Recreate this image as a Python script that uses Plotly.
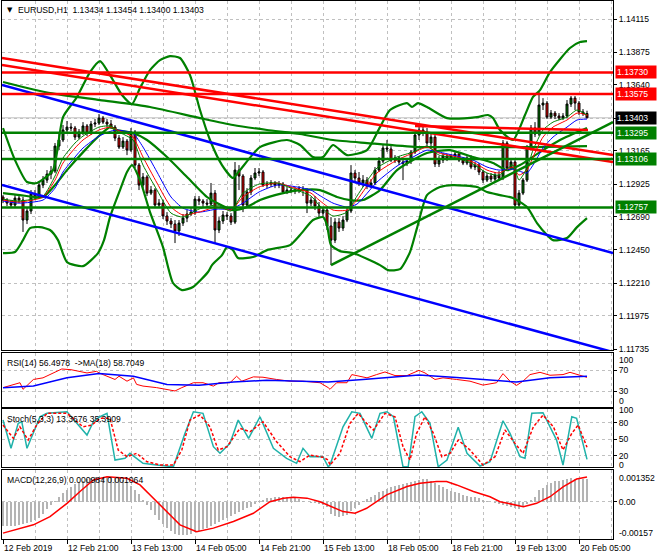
import datetime as dt
import plotly.graph_objects as go

FONT = "Liberation Sans"
GRID = "#c0c0c0"

# ---------------- candles (EURUSD H1) ----------------
opens = [1.12832, 1.12810, 1.12788, 1.12774, 1.12824, 1.12810, 1.12666, 1.12731, 1.12853, 1.12832,
         1.12918, 1.12954, 1.12997, 1.13019, 1.13199, 1.13243, 1.13315, 1.13336, 1.13329, 1.13264,
         1.13300, 1.13344, 1.13293, 1.13358, 1.13365, 1.13401, 1.13372, 1.13358, 1.13336, 1.13257,
         1.13192, 1.13235, 1.13170, 1.13300, 1.13062, 1.12918, 1.12976, 1.12860, 1.12882, 1.12774,
         1.12788, 1.12695, 1.12659, 1.12637, 1.12587, 1.12644, 1.12680, 1.12709, 1.12723, 1.12817,
         1.12803, 1.12788, 1.12781, 1.12860, 1.12594, 1.12659, 1.12702, 1.12695, 1.12651, 1.13026,
         1.12983, 1.12774, 1.12868, 1.12969, 1.13005, 1.13012, 1.12918, 1.12925, 1.12933, 1.12918,
         1.12925, 1.12868, 1.12882, 1.12875, 1.12882, 1.12889, 1.12882, 1.12788, 1.12810, 1.12767,
         1.12716, 1.12738, 1.12623, 1.12521, 1.12651, 1.12608, 1.12666, 1.12731, 1.13005, 1.12969,
         1.12933, 1.12954, 1.12911, 1.12933, 1.13026, 1.13091, 1.13185, 1.13178, 1.13098, 1.13113,
         1.13084, 1.13077, 1.13091, 1.13156, 1.13279, 1.13315, 1.13300, 1.13221, 1.13264, 1.13070,
         1.13098, 1.13127, 1.13106, 1.13127, 1.13142, 1.13098, 1.13077, 1.13113, 1.13048, 1.13062,
         1.13012, 1.12954, 1.12983, 1.12961, 1.12990, 1.12969, 1.13221, 1.13041, 1.13084, 1.12774,
         1.12860, 1.12954, 1.13192, 1.13329, 1.13286, 1.13495, 1.13509, 1.13408, 1.13437, 1.13416,
         1.13401, 1.13416, 1.13502, 1.13545, 1.13509, 1.13445, 1.13434]
highs = [1.12846, 1.12824, 1.12810, 1.12846, 1.12846, 1.12832, 1.12760, 1.12882, 1.12882, 1.12947,
         1.12983, 1.13026, 1.13055, 1.13221, 1.13286, 1.13351, 1.13380, 1.13365, 1.13344, 1.13322,
         1.13372, 1.13358, 1.13380, 1.13394, 1.13430, 1.13416, 1.13394, 1.13387, 1.13351, 1.13279,
         1.13264, 1.13250, 1.13329, 1.13315, 1.13077, 1.13005, 1.12990, 1.12911, 1.12896, 1.12817,
         1.12810, 1.12723, 1.12680, 1.12666, 1.12666, 1.12709, 1.12738, 1.12752, 1.12839, 1.12839,
         1.12817, 1.12817, 1.12933, 1.12882, 1.12687, 1.12731, 1.12723, 1.12716, 1.13084, 1.13062,
         1.12997, 1.12896, 1.12990, 1.13041, 1.13041, 1.13026, 1.12947, 1.12954, 1.12947, 1.12947,
         1.12940, 1.12904, 1.12904, 1.12904, 1.12911, 1.12911, 1.12896, 1.12832, 1.12839, 1.12796,
         1.12760, 1.12752, 1.12687, 1.12680, 1.12680, 1.12695, 1.12760, 1.13062, 1.13026, 1.13012,
         1.12990, 1.12976, 1.12961, 1.13048, 1.13120, 1.13214, 1.13243, 1.13199, 1.13134, 1.13127,
         1.13113, 1.13113, 1.13170, 1.13300, 1.13336, 1.13358, 1.13329, 1.13286, 1.13279, 1.13127,
         1.13149, 1.13142, 1.13142, 1.13163, 1.13156, 1.13120, 1.13127, 1.13134, 1.13084, 1.13077,
         1.13026, 1.13005, 1.13005, 1.13012, 1.13019, 1.13243, 1.13235, 1.13113, 1.13098, 1.12882,
         1.12969, 1.13207, 1.13351, 1.13372, 1.13589, 1.13545, 1.13524, 1.13459, 1.13452, 1.13437,
         1.13437, 1.13531, 1.13560, 1.13560, 1.13524, 1.13466, 1.13454]
lows = [1.12788, 1.12767, 1.12752, 1.12752, 1.12788, 1.12580, 1.12637, 1.12709, 1.12810, 1.12817,
        1.12896, 1.12933, 1.12961, 1.13005, 1.13170, 1.13228, 1.13293, 1.13307, 1.13243, 1.13250,
        1.13279, 1.13271, 1.13279, 1.13336, 1.13351, 1.13358, 1.13336, 1.13322, 1.13235, 1.13178,
        1.13178, 1.13134, 1.13156, 1.13041, 1.12882, 1.12896, 1.12839, 1.12846, 1.12752, 1.12760,
        1.12673, 1.12630, 1.12608, 1.12500, 1.12551, 1.12623, 1.12651, 1.12695, 1.12702, 1.12774,
        1.12760, 1.12752, 1.12767, 1.12500, 1.12572, 1.12637, 1.12666, 1.12630, 1.12637, 1.12882,
        1.12723, 1.12752, 1.12846, 1.12954, 1.12983, 1.12904, 1.12896, 1.12904, 1.12896, 1.12896,
        1.12853, 1.12853, 1.12860, 1.12853, 1.12860, 1.12839, 1.12716, 1.12767, 1.12738, 1.12687,
        1.12695, 1.12594, 1.12341, 1.12500, 1.12580, 1.12587, 1.12651, 1.12716, 1.12940, 1.12911,
        1.12904, 1.12889, 1.12896, 1.12918, 1.13012, 1.13077, 1.13156, 1.13084, 1.13077, 1.13062,
        1.12954, 1.13055, 1.13070, 1.13142, 1.13243, 1.13271, 1.13199, 1.13192, 1.13048, 1.13048,
        1.13077, 1.13091, 1.13098, 1.13113, 1.13084, 1.13062, 1.13062, 1.13033, 1.13026, 1.12990,
        1.12933, 1.12940, 1.12940, 1.12947, 1.12947, 1.12954, 1.13019, 1.13026, 1.12738, 1.12760,
        1.12846, 1.12940, 1.13170, 1.13264, 1.13271, 1.13459, 1.13394, 1.13394, 1.13394, 1.13387,
        1.13387, 1.13401, 1.13481, 1.13459, 1.13423, 1.13416, 1.13400]
closes = [1.12810, 1.12788, 1.12774, 1.12824, 1.12810, 1.12666, 1.12731, 1.12853, 1.12832, 1.12918,
          1.12954, 1.12997, 1.13019, 1.13199, 1.13243, 1.13315, 1.13336, 1.13329, 1.13264, 1.13300,
          1.13344, 1.13293, 1.13358, 1.13365, 1.13401, 1.13372, 1.13358, 1.13336, 1.13257, 1.13192,
          1.13235, 1.13170, 1.13300, 1.13062, 1.12918, 1.12976, 1.12860, 1.12882, 1.12774, 1.12788,
          1.12695, 1.12659, 1.12637, 1.12587, 1.12644, 1.12680, 1.12709, 1.12723, 1.12817, 1.12803,
          1.12788, 1.12781, 1.12860, 1.12594, 1.12659, 1.12702, 1.12695, 1.12651, 1.13026, 1.12983,
          1.12774, 1.12868, 1.12969, 1.13005, 1.13012, 1.12918, 1.12925, 1.12933, 1.12918, 1.12925,
          1.12868, 1.12882, 1.12875, 1.12882, 1.12889, 1.12882, 1.12788, 1.12810, 1.12767, 1.12716,
          1.12738, 1.12623, 1.12521, 1.12651, 1.12608, 1.12666, 1.12731, 1.13005, 1.12969, 1.12933,
          1.12954, 1.12911, 1.12933, 1.13026, 1.13091, 1.13185, 1.13178, 1.13098, 1.13113, 1.13084,
          1.13077, 1.13091, 1.13156, 1.13279, 1.13315, 1.13300, 1.13221, 1.13264, 1.13070, 1.13098,
          1.13127, 1.13106, 1.13127, 1.13142, 1.13098, 1.13077, 1.13113, 1.13048, 1.13062, 1.13012,
          1.12954, 1.12983, 1.12961, 1.12990, 1.12969, 1.13221, 1.13041, 1.13084, 1.12774, 1.12860,
          1.12954, 1.13192, 1.13329, 1.13286, 1.13495, 1.13509, 1.13408, 1.13437, 1.13416, 1.13401,
          1.13416, 1.13502, 1.13545, 1.13509, 1.13445, 1.13434, 1.13403]

# ---------------- main-chart indicators (bar position, price) ----------------
bb_up_x = [0, 3, 6, 8.5, 12.5, 15, 18.5, 21.75, 24.25, 26.75, 29.75, 32.25, 34.25, 36.75, 39.25,
           41.75, 44.25, 46.75, 49.25, 51.75, 54.75, 57.5, 59.25, 64.25, 71, 74.25, 77.5, 80, 82.5,
           86, 91, 94.25, 96.75, 101, 102.25, 103.75, 106, 111, 118.5, 121.25, 122.5, 124.25, 127.5,
           130.5, 132.5, 134.25, 136.75, 141.75, 144.25, 146]
bb_up = [1.13329, 1.13098, 1.12940, 1.12933, 1.13026, 1.13408, 1.13553, 1.13733, 1.13812, 1.13711,
         1.13567, 1.13502, 1.13617, 1.13747, 1.13819, 1.13848, 1.13834, 1.13711, 1.13459, 1.13243,
         1.13062, 1.12969, 1.13026, 1.13192, 1.13243, 1.13207, 1.13120, 1.13120, 1.13207, 1.13134,
         1.13170, 1.13336, 1.13459, 1.13509, 1.13481, 1.13509, 1.13481, 1.13401, 1.13408, 1.13423,
         1.13401, 1.13315, 1.13243, 1.13423, 1.13553, 1.13603, 1.13733, 1.13906, 1.13949, 1.13956]
bb_lo_x = [0, 3, 5, 6.75, 9.25, 11.75, 13.75, 16, 20, 23.75, 25.25, 26.75, 29.25, 31, 32.25, 34.25,
           36.75, 40, 42.5, 44.75, 47.5, 51.25, 52.25, 54.75, 56, 57.5, 58.75, 62.5, 66, 71.75, 74.25,
           77.5, 80, 81, 82, 84.25, 87.5, 94.25, 96.25, 99.25, 101.75, 103.5, 106, 109.25, 112.5,
           118.5, 121, 124.25, 127.5, 131, 133.5, 136, 137.5, 141, 143.5, 146]
bb_lo = [1.12428, 1.12435, 1.12521, 1.12608, 1.12615, 1.12594, 1.12521, 1.12363, 1.12334, 1.12428,
         1.12521, 1.12687, 1.12882, 1.13012, 1.13062, 1.12954, 1.12723, 1.12471, 1.12212, 1.12161,
         1.12183, 1.12291, 1.12341, 1.12413, 1.12471, 1.12449, 1.12392, 1.12399, 1.12449, 1.12485,
         1.12558, 1.12666, 1.12687, 1.12630, 1.12485, 1.12442, 1.12428, 1.12341, 1.12305, 1.12312,
         1.12435, 1.12608, 1.12846, 1.12904, 1.12918, 1.12904, 1.12868, 1.12846, 1.12824, 1.12760,
         1.12644, 1.12558, 1.12521, 1.12536, 1.12615, 1.12680]
bb_mid_x = [0, 4.25, 10, 13, 16, 20.5, 24.25, 26.75, 28.5, 32.5, 36, 41, 46, 51, 53.5, 57.5, 61,
            64.25, 70, 74.25, 79.25, 83.5, 86.75, 90, 94.25, 98.5, 106, 111.75, 117.5, 122.5, 126,
            129.25, 134.25, 139.25, 146]
bb_mid = [1.12860, 1.12846, 1.12832, 1.12918, 1.13026, 1.13170, 1.13279, 1.13336, 1.13315, 1.13293,
          1.13243, 1.13120, 1.12976, 1.12832, 1.12788, 1.12738, 1.12760, 1.12810, 1.12860, 1.12882,
          1.12882, 1.12832, 1.12810, 1.12810, 1.12882, 1.13026, 1.13149, 1.13170, 1.13120, 1.13077,
          1.13026, 1.13062, 1.13156, 1.13243, 1.13329]
slow_ma_x = [0, 11.75, 24.25, 36.75, 49.25, 57.5, 66, 74.25, 82.5, 91, 103.5, 116, 132.5, 146]
slow_ma = [1.13661, 1.13581, 1.13531, 1.13481, 1.13401, 1.13351, 1.13315, 1.13286, 1.13243, 1.13221,
           1.13192, 1.13192, 1.13192, 1.13199]

fast_x = [0, 4, 10, 13, 15, 18, 20, 24, 27, 28.5, 30.5, 32.5, 35, 38.5, 42, 45, 49, 53.5, 57, 60, 64,
          68.5, 72, 77, 79, 82.5, 86, 88.5, 93.5, 98.5, 102.5, 106, 109, 113.5, 117.5, 121, 124,
          127.5, 129, 131, 132.5, 135, 137.5, 141, 143.5, 146]
ma_green = [1.12817, 1.12803, 1.12839, 1.12983, 1.13113, 1.13221, 1.13271, 1.13336, 1.13344, 1.13307,
            1.13279, 1.13243, 1.13062, 1.12882, 1.12716, 1.12687, 1.12745, 1.12774, 1.12731, 1.12860,
            1.12925, 1.12933, 1.12896, 1.12839, 1.12774, 1.12695, 1.12723, 1.12839, 1.13041, 1.13120,
            1.13156, 1.13199, 1.13134, 1.13113, 1.13070, 1.13005, 1.12990, 1.13062, 1.12954, 1.13041,
            1.13170, 1.13315, 1.13372, 1.13408, 1.13459, 1.13423]
ma_red = [1.12810, 1.12796, 1.12832, 1.12954, 1.13077, 1.13185, 1.13243, 1.13315, 1.13336, 1.13315,
          1.13293, 1.13264, 1.13120, 1.12933, 1.12760, 1.12702, 1.12723, 1.12760, 1.12738, 1.12832,
          1.12904, 1.12933, 1.12904, 1.12860, 1.12810, 1.12738, 1.12738, 1.12810, 1.13005, 1.13098,
          1.13149, 1.13192, 1.13149, 1.13120, 1.13084, 1.13026, 1.13005, 1.13048, 1.12990, 1.13026,
          1.13120, 1.13264, 1.13336, 1.13387, 1.13437, 1.13423]
ma_blue = [1.12803, 1.12788, 1.12810, 1.12896, 1.13012, 1.13120, 1.13185, 1.13271, 1.13307, 1.13315,
           1.13307, 1.13293, 1.13192, 1.13012, 1.12832, 1.12752, 1.12723, 1.12745, 1.12745, 1.12788,
           1.12868, 1.12918, 1.12911, 1.12882, 1.12846, 1.12788, 1.12760, 1.12781, 1.12940, 1.13055,
           1.13120, 1.13170, 1.13156, 1.13127, 1.13098, 1.13048, 1.13026, 1.13033, 1.13019, 1.13005,
           1.13062, 1.13185, 1.13264, 1.13336, 1.13387, 1.13394]

# drawn objects
red_levels = [1.13730, 1.13575]
green_levels = [1.13295, 1.13106, 1.12757]
bid_price = 1.13403
red_trend_x = [[-0.25, 152.5], [-0.25, 152.5], [103, 146.25]]
red_trend_y = [[1.13834, 1.13134], [1.13783, 1.13084], [1.13344, 1.13315]]
blue_trend_x = [[-0.25, 152.5], [-0.25, 152.5]]
blue_trend_y = [[1.13639, 1.12428], [1.12918, 1.11714]]
green_trend_x = [[82, 152.5]]
green_trend_y = [[1.12341, 1.13372]]

price_ticks = [1.14115, 1.13875, 1.13640, 1.13400, 1.13165, 1.12925, 1.12690, 1.12450, 1.12210,
               1.11975, 1.11735]
price_tick_text = ["1.14115", "1.13875", "1.13640", "", "1.13165", "1.12925", "1.12690", "1.12450",
                   "1.12210", "1.11975", "1.11735"]

# ---------------- RSI(14) and MA(18) ----------------
rsi_x = [0, 2.6, 4.25, 5, 6.75, 7.6, 10, 12.6, 14.7, 17, 19, 21, 23.4, 24, 28, 29, 31, 32.6, 33.4, 35,
         38.4, 41, 43, 44.7, 47.6, 50, 52.6, 54, 56.75, 58.4, 59.7, 62.6, 65, 68.4, 71.75, 75, 79.25,
         81.3, 81.75, 83.4, 86, 87.2, 89, 91, 93.4, 95.5, 98, 101, 104, 105.5, 108, 110, 113.4,
         116.75, 120, 123.4, 125, 126.75, 128.4, 130, 131.75, 134.25, 136.75, 140, 141.75, 143.8, 146]
rsi = [36.6, 42.9, 46.1, 33.3, 46.1, 52.4, 55.6, 65.1, 72.8, 71.4, 68.2, 65.1, 68.2, 65.1, 52.4, 58.7,
       49.1, 55.6, 42.9, 39.6, 36.6, 33.3, 30.1, 36.6, 46.1, 46.1, 39.6, 46.1, 46.1, 58.7, 49.1, 57.5,
       56.8, 52.4, 49.1, 49.1, 46.1, 36.6, 33.3, 46.1, 46.1, 61.9, 58.7, 55.6, 61.9, 67.0, 60.0, 60.0,
       70.1, 65.1, 52.4, 55.6, 52.4, 49.1, 41.5, 46.1, 63.8, 49.1, 41.0, 49.1, 61.9, 66.3, 60.6, 61.9,
       66.3, 61.9, 56.5]
rsi_ma_x = [0, 7.6, 16, 24, 32.6, 41, 49, 57.6, 65.9, 74.3, 81.3, 90, 98.4, 104, 113.4, 121.75, 128.4,
            136.75, 146]
rsi_ma = [36.6, 39.6, 55.6, 63.8, 58.7, 42.9, 41.0, 47.3, 50.9, 49.1, 47.3, 52.4, 57.5, 61.0, 56.2,
          50.5, 47.3, 55.6, 58.7]

# ---------------- Stochastic(5,3,3) ----------------
stoch_x = [0, 2, 3.8, 4.7, 6, 7.6, 9.25, 11, 16, 21, 22.6, 24.25, 26, 28, 30.5, 31.75, 35, 38.4, 42.6,
           45.5, 47.6, 50, 52.6, 54.25, 56.75, 58.8, 61.4, 64.25, 67.6, 70.9, 73.4, 75, 76.75, 80,
           81.3, 81.75, 85, 87.2, 89.25, 92.2, 94.25, 96, 97.6, 100, 101.3, 103, 104.7, 106.75, 108.8,
           111, 113.8, 116, 119.25, 121.75, 125, 126.75, 129.25, 130.5, 132.2, 135, 138.4, 140, 142.2,
           143.4, 146]
stoch_main = [84.9, 33.5, 78.9, 81.8, 33.5, 60.7, 90.9, 97.1, 100, 57.6, 81.8, 90.9, 97.1, 12.2, 15.3,
              24.4, 6.2, 3.1, 0, 60.7, 100, 97.1, 36.4, 24.4, 42.5, 84.9, 51.6, 90.9, 33.5, 15.3, 6.2,
              33.5, 18.2, 18.2, 0, 3.1, 72.7, 100, 97.1, 51.6, 97.1, 100, 90.9, 0, 0, 90.9, 100, 78.9,
              0, 12.2, 71.6, 24.4, 1.3, 9.1, 83.6, 60.7, 18.2, 15.3, 97.1, 98.2, 48.5, 3.1, 90.9, 88.0,
              13.37]
stoch_sig_x = [0, 2.6, 4.2, 6.3, 8.4, 11, 16, 20, 22.2, 24.25, 26.75, 28.8, 31, 33.4, 36, 39.25, 42.6,
               44.7, 46.75, 49.25, 51.75, 53.8, 56, 59.25, 61.75, 65, 68.4, 71.75, 74.25, 76.75, 80,
               81.3, 81.75, 84.25, 86.75, 88.8, 90.9, 92.6, 95.5, 98, 100, 101.75, 103.4, 105.5, 107.6,
               109.7, 111.75, 113.8, 116.75, 120, 123, 125.5, 128, 130, 132.6, 135, 137.6, 140, 142.2,
               143.8, 146]
stoch_sig = [75.8, 51.6, 72.7, 48.5, 75.8, 97.1, 97.1, 72.7, 75.8, 88.0, 88.0, 30.4, 18.2, 24.4, 9.1,
             3.1, 3.1, 30.4, 84.9, 94.0, 72.7, 30.4, 36.4, 69.8, 63.6, 81.8, 45.5, 18.2, 9.1, 21.3,
             17.1, 12.2, 3.1, 24.4, 78.9, 97.1, 78.9, 66.7, 97.1, 90.9, 36.4, 12.2, 60.7, 90.9, 60.7,
             18.2, 24.4, 48.5, 30.4, 3.1, 18.2, 66.7, 42.5, 24.4, 72.7, 94.0, 72.7, 30.4, 60.7, 75.8,
             35.39]

# ---------------- MACD(12,26,9) ----------------
macd_hist = [-0.00104, -0.00103, -0.00102, -0.00100, -0.00097, -0.00094, -0.00090, -0.00085, -0.00078,
             -0.00066, -0.00050, -0.00032, -0.00013, 0.00005, 0.00020, 0.00038, 0.00051, 0.00062,
             0.00074, 0.00083, 0.00090, 0.00097, 0.00101, 0.00104, 0.00106, 0.00107, 0.00107, 0.00107,
             0.00105, 0.00100, 0.00093, 0.00082, 0.00068, 0.00052, 0.00032, 0.00010, -0.00013,
             -0.00035, -0.00057, -0.00075, -0.00094, -0.00111, -0.00125, -0.00135, -0.00140, -0.00140,
             -0.00139, -0.00134, -0.00127, -0.00121, -0.00115, -0.00110, -0.00103, -0.00094, -0.00086,
             -0.00078, -0.00069, -0.00060, -0.00050, -0.00041, -0.00034, -0.00027, -0.00020, -0.00008,
             0.00003, 0.00010, 0.00016, 0.00018, 0.00020, 0.00021, 0.00022, 0.00022, 0.00021, 0.00017,
             0.00012, 0.00006, 0.00001, -0.00003, -0.00006, -0.00010, -0.00015, -0.00022, -0.00050,
             -0.00058, -0.00062, -0.00060, -0.00055, -0.00040, -0.00027, -0.00012, 0.00004, 0.00012,
             0.00020, 0.00030, 0.00040, 0.00046, 0.00055, 0.00063, 0.00068, 0.00072, 0.00077, 0.00080,
             0.00084, 0.00089, 0.00094, 0.00096, 0.00097, 0.00090, 0.00080, 0.00072, 0.00063, 0.00054,
             0.00047, 0.00041, 0.00036, 0.00031, 0.00024, 0.00021, 0.00019, 0.00016, 0.00010, 0.00004,
             0.00000, -0.00005, -0.00010, -0.00012, -0.00018, -0.00022, -0.00027, -0.00030, -0.00022,
             -0.00008, 0.00008, 0.00020, 0.00050, 0.00060, 0.00070, 0.00082, 0.00088, 0.00090, 0.00093,
             0.00096, 0.00100, 0.00099, 0.00097, 0.00096, 0.00098]
macd_sig_x = [0, 7.6, 11.75, 16, 19.25, 22.6, 26, 31, 34.25, 39.25, 44.25, 48.4, 52.6, 57.6, 62.6,
              66.75, 70.1, 72.6, 76, 79.25, 81.3, 85, 88, 90.9, 95.9, 101, 104.25, 108.4, 110.9, 113.4,
              117.6, 121.75, 124.25, 127.6, 130.1, 133.4, 136.75, 140.1, 143.4, 146]
macd_sig = [-0.00132, -0.00097, -0.00062, -0.00006, 0.00044, 0.00093, 0.00107, 0.00100, 0.00072,
            -0.00013, -0.00097, -0.00126, -0.00111, -0.00083, -0.00048, 0.00001, 0.00016, 0.00020,
            0.00016, 0.00001, -0.00013, -0.00041, -0.00048, -0.00027, 0.00030, 0.00065, 0.00079,
            0.00086, 0.00086, 0.00072, 0.00044, 0.00022, 0.00001, -0.00010, -0.00020, -0.00006,
            0.00022, 0.00065, 0.00097, 0.00106]

# ---------------- time axis (H1 bars, weekends skipped) ----------------
n = len(closes)
bars = list(range(n))
times = []
t = dt.datetime(2019, 2, 12, 5)
while len(times) < n:
    if t.weekday() < 5:
        times.append(t)
    t += dt.timedelta(hours=1)
label_bars = list(range(0, n, 16))
label_texts = [times[0].strftime("%d %b %Y")] + [times[i].strftime("%d %b %H:%M") for i in label_bars[1:]]

# ---------------- geometry ----------------
W, H = 660, 560
ML, MR, MT, MB = 2, 47, 1, 21
FS = 8.6


def py(ypx):
    return (H - MB - ypx) / (H - MT - MB)


fig = go.Figure()

# candles
fig.add_trace(go.Candlestick(
    x=bars, open=opens, high=highs, low=lows, close=closes,
    increasing=dict(line=dict(color="black", width=1), fillcolor="#008000"),
    decreasing=dict(line=dict(color="black", width=1), fillcolor="#ff0000"),
    whiskerwidth=0, hoverinfo="skip", xaxis="x", yaxis="y"))


def line(x, y, color, width, ax="", dash="solid", shape="spline"):
    fig.add_trace(go.Scatter(x=x, y=y, mode="lines", xaxis="x" + ax, yaxis="y" + ax,
                             line=dict(color=color, width=width, dash=dash, shape=shape, smoothing=0.6),
                             hoverinfo="skip"))


line(bb_up_x, bb_up, "#008000", 2.2)
line(bb_lo_x, bb_lo, "#008000", 2.2)
line(bb_mid_x, bb_mid, "#008000", 2.2)
line(slow_ma_x, slow_ma, "#008000", 2.2)
line(fast_x, ma_blue, "#0000ff", 1)
line(fast_x, ma_red, "#ff0000", 1)
line(fast_x, ma_green, "#008000", 1)
for xs, ys in zip(red_trend_x, red_trend_y):
    line(xs, ys, "#ff0000", 2.5, shape="linear")
for xs, ys in zip(blue_trend_x, blue_trend_y):
    line(xs, ys, "#0000ff", 2.5, shape="linear")
for xs, ys in zip(green_trend_x, green_trend_y):
    line(xs, ys, "#008000", 2.5, shape="linear")

# RSI
line(rsi_x, rsi, "#ff0000", 1, ax="2", shape="linear")
line(rsi_ma_x, rsi_ma, "#0000ff", 1.5, ax="2", shape="linear")
# Stochastic
line(stoch_x, stoch_main, "#20b2aa", 1.5, ax="3", shape="linear")
line(stoch_sig_x, stoch_sig, "#ff0000", 1.5, ax="3", dash="3px,2px", shape="linear")
# MACD
fig.add_trace(go.Bar(x=bars, y=macd_hist, width=0.3, marker=dict(color="#b4b4b4", line=dict(width=0)),
                     xaxis="x4", yaxis="y4", hoverinfo="skip"))
line(macd_sig_x, macd_sig, "#ff0000", 1.5, ax="4", shape="linear")

shapes = []
shapes.append(dict(type="line", xref="x domain", x0=0, x1=1, yref="y", y0=bid_price, y1=bid_price,
                   line=dict(color="#c0c0c0", width=1), layer="below"))
for lv in red_levels:
    shapes.append(dict(type="line", xref="x domain", x0=0, x1=1, yref="y", y0=lv, y1=lv,
                       line=dict(color="#ff0000", width=2.5)))
for lv in green_levels:
    shapes.append(dict(type="line", xref="x domain", x0=0, x1=1, yref="y", y0=lv, y1=lv,
                       line=dict(color="#008000", width=2.5)))

annotations = []
tf = dict(family=FONT, size=FS, color="black")


def txt(text, xpx, ypx, **kw):
    d = dict(xref="paper", yref="paper", x=(xpx - ML) / (W - ML - MR), y=py(ypx), text=text,
             showarrow=False, xanchor="left", yanchor="middle", font=tf)
    d.update(kw)
    annotations.append(d)


txt("▼", 5, 10, font=dict(family="DejaVu Sans", size=7, color="black"))
txt("EURUSD,H1  1.13434 1.13454 1.13400 1.13403", 16, 10)
txt("RSI(14) 56.4978  ->MA(18) 58.7049", 5, 363)
txt("Stoch(5,3,3) 13.3676 35.3909", 5, 419)
txt("MACD(12,26,9) 0.000984 0.001064", 5, 480)

# right-hand labels of sub windows
for t_, yy in [("100", 360), ("0", 401), ("100", 410), ("0", 465), ("0.001352", 478), ("-0.00157", 533)]:
    txt(t_, 617, yy)


def price_box(val, bg):
    annotations.append(dict(xref="paper", yref="y", x=1, y=val, xanchor="left", xshift=2,
                            text=f"{val:.5f}", showarrow=False, bgcolor=bg, borderpad=1,
                            font=dict(family=FONT, size=FS, color="white"), width=38, align="left"))


for lv in red_levels:
    price_box(lv, "#ff0000")
price_box(bid_price, "#000000")
for lv in green_levels:
    price_box(lv, "#008000")

for b, s in zip(label_bars, label_texts):
    annotations.append(dict(xref="x4", yref="paper", x=b, y=py(548), text=s, showarrow=False,
                            xanchor="left", yanchor="middle", xshift=-1, font=tf))

grid = dict(showgrid=True, gridcolor=GRID, griddash="3px,3px", gridwidth=1)
xbase = dict(range=[-0.25, 152.5], tickmode="linear", tick0=0, dtick=16, showline=True,
             linecolor="black", linewidth=1, mirror=True, zeroline=False, showticklabels=False,
             ticks="", fixedrange=True,
             minor=dict(tickmode="linear", tick0=0, dtick=8, showgrid=True, gridcolor=GRID,
                        griddash="3px,3px"), **grid)
ybase = dict(side="right", showline=True, linecolor="black", linewidth=1, mirror=True, zeroline=False,
             ticks="outside", ticklen=3, tickcolor="black", tickfont=tf, fixedrange=True, **grid)

fig.update_layout(
    width=W, height=H, margin=dict(l=ML, r=MR, t=MT, b=MB),
    paper_bgcolor="white", plot_bgcolor="white", showlegend=False, bargap=0,
    font=dict(family=FONT, size=FS, color="black"),
    xaxis=dict(xbase, anchor="y", rangeslider=dict(visible=False)),
    xaxis2=dict(xbase, anchor="y2", matches="x"),
    xaxis3=dict(xbase, anchor="y3", matches="x"),
    xaxis4=dict(xbase, anchor="y4", matches="x", ticks="outside", ticklen=4, tickcolor="black"),
    yaxis=dict(ybase, domain=[py(350), 1], range=[1.11729, 1.14245], tickmode="array",
               tickvals=price_ticks, ticktext=price_tick_text),
    yaxis2=dict(ybase, domain=[py(407), py(353)], range=[-1, 103.8], tickmode="array",
                tickvals=[70, 30], ticktext=["70", "30"]),
    yaxis3=dict(ybase, domain=[py(467), py(409)], range=[-0.5, 105], tickmode="array",
                tickvals=[80, 50, 20], ticktext=["80", "50", "20"]),
    yaxis4=dict(ybase, domain=[0, py(470)], range=[-0.00157, 0.001352], tickmode="array",
                tickvals=[0], ticktext=["0.00"]),
    shapes=shapes, annotations=annotations,
)

fig.write_html("out.html", config={"displayModeBar": False, "staticPlot": True},
               post_script="document.body.style.margin='0px';")
